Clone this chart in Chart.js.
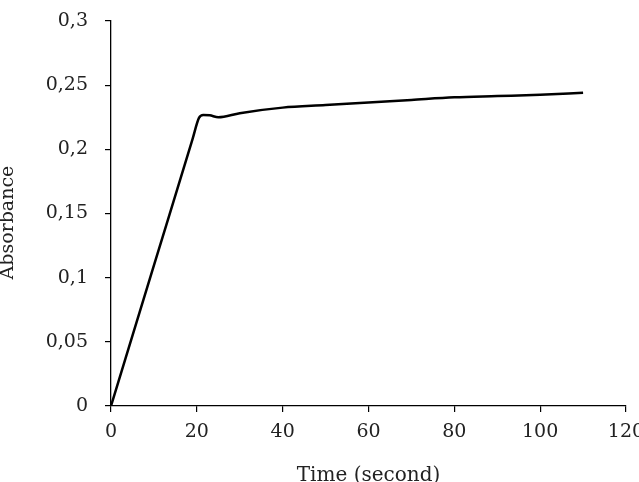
<!DOCTYPE html>
<html>
<head>
    <title>Absorbance over Time</title>
    <script src="https://cdn.jsdelivr.net/npm/chart.js"></script>
    <style>
        body { margin: 0; background: #fff; }
        #wrap { width: 639px; height: 482px; }
    </style>
</head>
<body>
    <div id="wrap"><canvas id="myChart" width="639" height="482"></canvas></div>
    <script>
        // Time (second) and absorbance
        var times = [0, 10, 19, 20.5, 21.5, 23, 25, 30, 40, 50, 60, 70, 80, 90, 100, 110];
        var absorbance = [0, 0.1095, 0.2080, 0.2245, 0.2268, 0.2265, 0.2250, 0.2282, 0.2325, 0.2345, 0.2365, 0.2385, 0.2405, 0.2415, 0.2425, 0.2440];
        var xTicks = [0, 20, 40, 60, 80, 100, 120];
        var yTicks = [0, 0.05, 0.1, 0.15, 0.2, 0.25, 0.3];

        var fontFamily = "'DejaVu Serif', 'Liberation Serif', serif";
        var points = times.map(function(t, i) { return { x: t, y: absorbance[i] }; });

        var ctx = document.getElementById("myChart").getContext("2d");
        var chart = new Chart(ctx, {
            type: 'line',
            data: {
                datasets: [{
                    label: 'Absorbance',
                    data: points,
                    borderColor: '#000',
                    borderWidth: 2.5,
                    pointRadius: 0,
                    cubicInterpolationMode: 'monotone',
                    fill: false
                }]
            },
            options: {
                responsive: false,
                animation: false,
                layout: { padding: { top: 21, left: 0, right: 13, bottom: 0 } },
                plugins: {
                    legend: { display: false },
                    tooltip: { enabled: false }
                },
                scales: {
                    x: {
                        type: 'linear',
                        min: 0,
                        max: 120,
                        afterBuildTicks: function(scale) {
                            scale.ticks = xTicks.map(function(v) { return { value: v }; });
                        },
                        afterFit: function(scale) {
                            scale.height = 76;
                            scale.paddingRight = 0;
                        },
                        grid: { drawOnChartArea: false, tickLength: 6, color: '#000', lineWidth: 1.2 },
                        border: { color: '#000', width: 1.3 },
                        ticks: {
                            color: '#222',
                            font: { family: fontFamily, size: 19 },
                            padding: 9,
                            maxRotation: 0
                        },
                        title: {
                            display: true,
                            text: 'Time (second)',
                            color: '#222',
                            font: { family: fontFamily, size: 20 },
                            padding: { top: 0, bottom: -6 }
                        }
                    },
                    y: {
                        min: 0,
                        max: 0.3,
                        afterBuildTicks: function(scale) {
                            scale.ticks = yTicks.map(function(v) { return { value: v }; });
                        },
                        afterFit: function(scale) {
                            scale.width = 111;
                            scale.paddingTop = 0;
                            scale.paddingBottom = 0;
                        },
                        grid: { drawOnChartArea: false, tickLength: 6, color: '#000', lineWidth: 1.2 },
                        border: { color: '#000', width: 1.3 },
                        ticks: {
                            color: '#222',
                            font: { family: fontFamily, size: 19 },
                            padding: 17,
                            callback: function(v) { return String(v).replace('.', ','); }
                        },
                        title: {
                            display: true,
                            text: 'Absorbance\u00a0\u00a0\u00a0',
                            color: '#222',
                            font: { family: fontFamily, size: 19 },
                            padding: { top: -3, bottom: 0 }
                        }
                    }
                }
            }
        });
    </script>
</body>
</html>
